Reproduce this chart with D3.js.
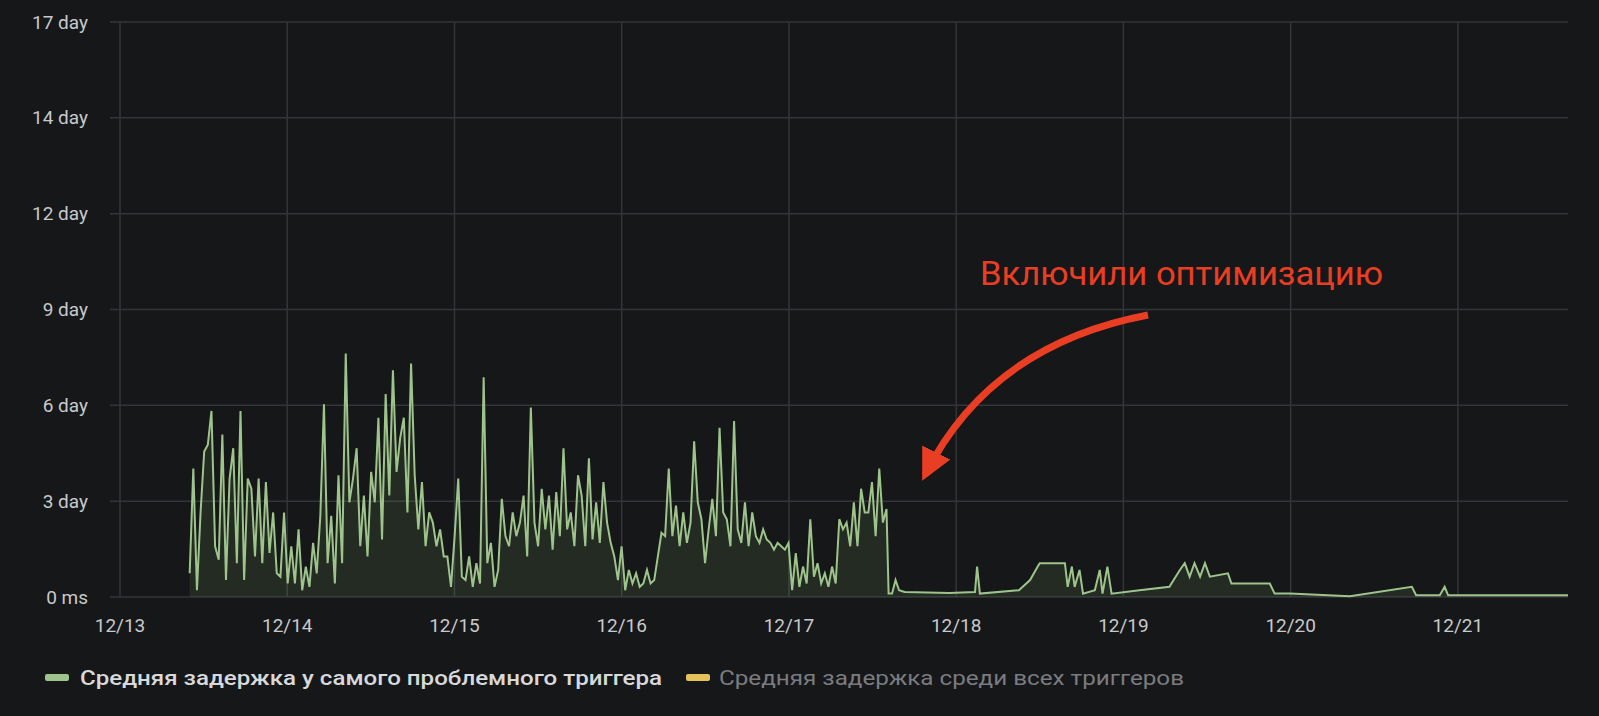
<!DOCTYPE html>
<html><head><meta charset="utf-8">
<script src="https://cdn.jsdelivr.net/npm/d3@7"></script>
<style>body{margin:0;background:#161719;}svg{display:block;font-family:Roboto,"Noto Sans",sans-serif;}</style>
</head><body><svg id="c" width="1599" height="716"></svg>
<script>
const dayLabels = ["12/13","12/14","12/15","12/16","12/17","12/18","12/19","12/20","12/21"];
const yTickLabels = ["0 ms","3 day","6 day","9 day","12 day","14 day","17 day"];
const yMaxDays = 17;
// spiky period: values (days) evenly spaced from hour 10 to hour 110
const spikyStartHour = 10, spikyEndHour = 110;
const spikyValues = [0.7,3.8,0.2,2.5,4.3,4.5,5.5,1.5,1.1,4.8,0.5,3.5,4.4,1.0,5.5,0.5,3.5,3.2,1.2,3.5,1.0,3.4,1.3,2.5,0.7,0.6,2.5,0.4,1.5,0.4,2.0,0.2,0.9,0.3,1.6,0.7,2.4,5.7,1.0,2.4,0.4,3.6,1.0,7.2,2.8,3.5,4.4,1.5,3.0,1.2,3.7,2.8,5.3,1.7,6.0,3.0,6.7,3.7,4.7,5.3,2.5,6.9,3.6,2.0,3.4,1.5,2.5,2.2,1.5,2.0,1.2,1.2,0.3,1.8,3.5,0.6,0.5,1.2,0.3,1.0,0.4,6.5,1.0,1.6,0.3,0.8,2.9,1.8,1.5,2.5,1.8,2.2,3.0,1.2,5.6,2.2,1.5,3.2,2.0,3.0,1.4,3.1,1.8,4.4,2.0,2.5,1.5,3.6,3.0,1.5,4.1,1.7,2.8,1.6,3.4,2.2,1.6,1.2,0.5,1.5,0.2,0.8,0.4,0.7,0.3,0.4,0.8,0.4,0.5,1.2,1.9,1.8,3.8,1.8,2.7,1.5,2.5,1.6,2.2,4.6,2.8,2.3,1.0,2.0,2.9,1.8,5.0,2.5,2.3,1.5,5.2,2.0,1.6,2.8,1.5,2.5,1.8,1.6,2.0,1.7,1.6,1.4,1.6,1.5,1.4,1.6,0.2,1.3,0.3,0.9,0.4,2.3,0.6,1.0,0.4,0.7,0.3,0.9,0.4,2.3,2.0,2.2,1.5,2.8,1.5,3.2,2.5,2.5,3.4,1.8,3.8,2.2,2.6];
// calm period: [hour, days]
const calmPoints = [[110.3,0.1],[110.8,0.1],[111.3,0.5],[111.8,0.2],[112.6,0.15],[119,0.12],[122.7,0.15],[123,0.9],[123.4,0.1],[129,0.2],[130.6,0.5],[131.7,0.9],[132,1.0],[135.6,1.0],[136,0.3],[136.6,0.9],[137,0.3],[137.7,0.8],[138.2,0.1],[139.9,0.2],[140.6,0.8],[141,0.1],[141.7,0.9],[142.3,0.1],[146.3,0.2],[150.6,0.3],[152.1,0.8],[152.8,1.0],[153.5,0.6],[154.2,1.0],[155,0.6],[155.7,1.0],[156.4,0.6],[159,0.7],[159.5,0.4],[162.1,0.4],[165,0.4],[165.7,0.1],[167.9,0.1],[176.5,0.02],[185.4,0.3],[186,0.05],[189.4,0.05],[190.1,0.3],[190.6,0.05],[207.8,0.05]];
const legendLabels = ["Средняя задержка у самого проблемного триггера","Средняя задержка среди всех триггеров"];
const annotation = "Включили оптимизацию";

const step = (spikyEndHour-spikyStartHour)/(spikyValues.length-1);
const data = spikyValues.map((v,i)=>[spikyStartHour+i*step,v]).concat(calmPoints);
const svg = d3.select("#c");
const W=1599,H=716, m={l:120,r:31,t:22,b:119};
svg.append("rect").attr("width",W).attr("height",H).attr("fill","#161719");
const x = d3.scaleLinear().domain([0,207.8]).range([m.l,W-m.r]);
const y = d3.scaleLinear().domain([0,yMaxDays]).range([H-m.b,m.t]);
const yt = d3.range(7).map(i=>i*yMaxDays/6);
const xt = d3.range(9).map(i=>i*24);
const g = svg.append("g");
g.selectAll(".hg").data(yt).join("line").attr("x1",m.l-10).attr("x2",W-m.r).attr("y1",d=>y(d)).attr("y2",d=>y(d)).attr("stroke","#34353a").attr("stroke-width",1.5);
g.selectAll(".vg").data(xt).join("line").attr("x1",d=>x(d)).attr("x2",d=>x(d)).attr("y1",m.t).attr("y2",H-m.b).attr("stroke","#34353a").attr("stroke-width",1.5);
g.selectAll(".yl").data(yt).join("text").attr("x",88).attr("y",d=>y(d)).attr("dy","0.35em").attr("text-anchor","end").attr("fill","#c8c9ca").attr("font-size",19).text((d,i)=>yTickLabels[i]);
g.selectAll(".xl").data(xt).join("text").attr("x",d=>x(d)).attr("y",H-m.b+35).attr("text-anchor","middle").attr("fill","#c8c9ca").attr("font-size",19).text((d,i)=>dayLabels[i]);
svg.append("path").datum(data).attr("d",d3.area().x(d=>x(d[0])).y0(y(0)).y1(d=>y(d[1]))).attr("fill","#7eb26d").attr("fill-opacity",0.13);
svg.append("path").datum(data).attr("d",d3.line().x(d=>x(d[0])).y(d=>y(d[1]))).attr("fill","none").attr("stroke","#9ec48c").attr("stroke-width",2);
const red="#ea3e24";
svg.append("text").attr("x",980).attr("y",285).attr("fill",red).attr("font-size",33).attr("textLength",403).attr("lengthAdjust","spacingAndGlyphs").text(annotation);
svg.append("defs").append("marker").attr("id","ah").attr("viewBox","0 0 10 10").attr("refX",8).attr("refY",5).attr("markerWidth",4.5).attr("markerHeight",4.5).attr("orient","auto").append("path").attr("d","M0,0L10,5L0,10z").attr("fill",red);
svg.append("path").attr("d","M1148,315 Q990,345 925,475").attr("fill","none").attr("stroke",red).attr("stroke-width",7).attr("marker-end","url(#ah)");
const lg=svg.append("g");
lg.append("rect").attr("x",45).attr("y",674).attr("width",24).attr("height",7).attr("rx",2).attr("fill","#9ec48c");
lg.append("text").attr("x",80).attr("y",685).attr("fill","#d8d9da").attr("font-size",20).attr("font-weight",500).attr("textLength",582).attr("lengthAdjust","spacingAndGlyphs").text(legendLabels[0]);
lg.append("rect").attr("x",686).attr("y",674).attr("width",24).attr("height",7).attr("rx",2).attr("fill","#e5c15c");
lg.append("text").attr("x",719).attr("y",685).attr("fill","#7b7c80").attr("font-size",20).attr("textLength",465).attr("lengthAdjust","spacingAndGlyphs").text(legendLabels[1]);
</script></body></html>
